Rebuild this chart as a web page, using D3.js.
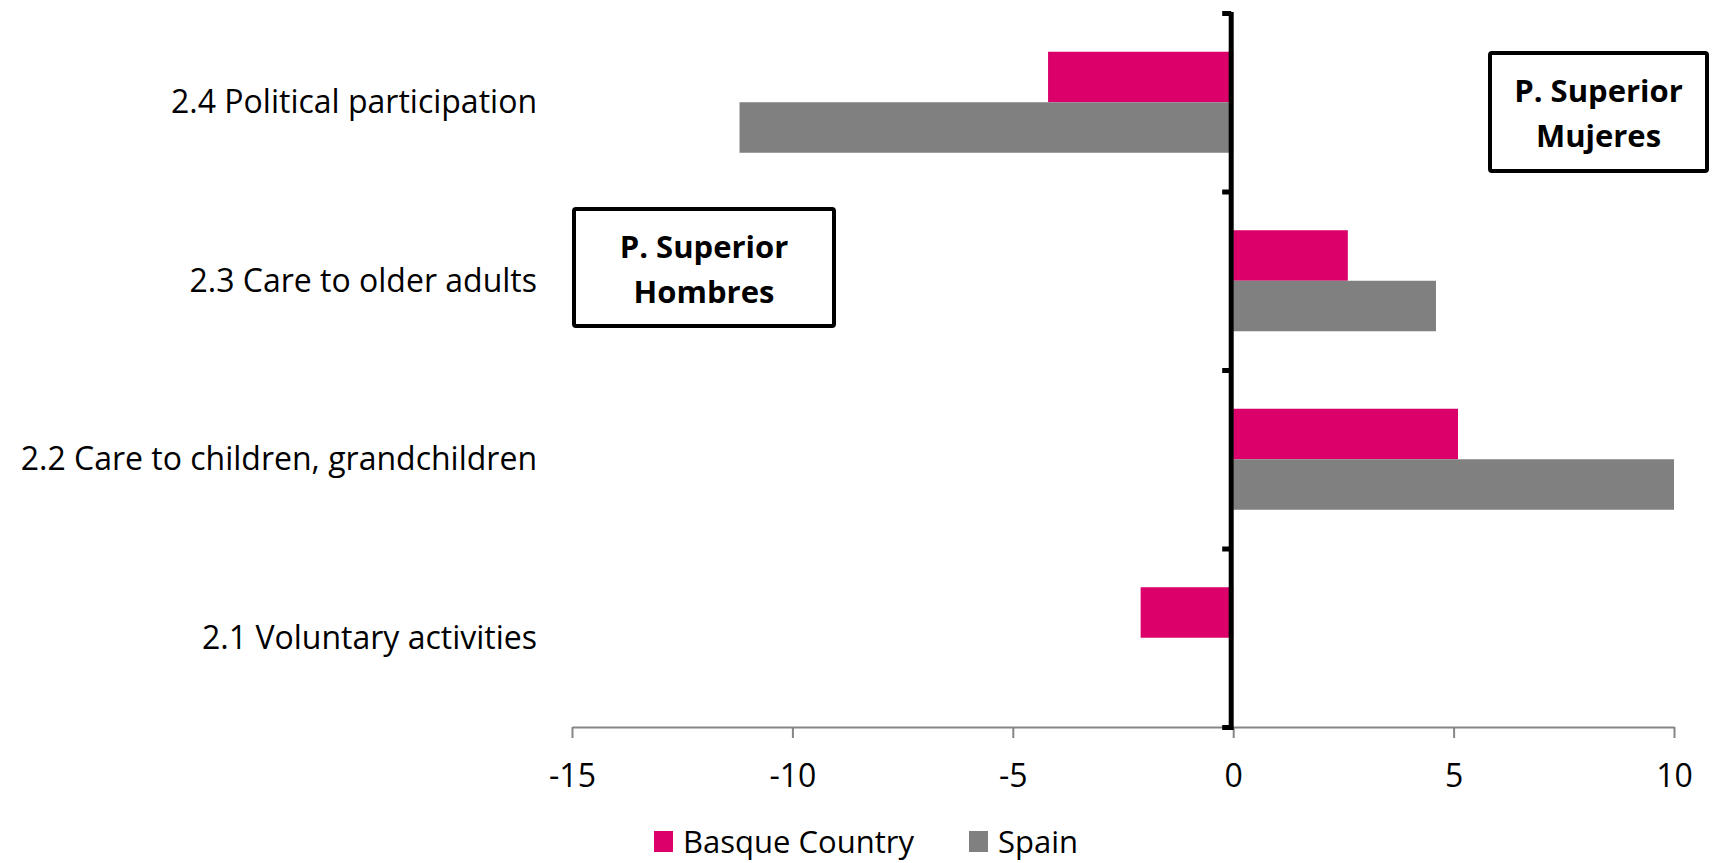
<!DOCTYPE html>
<html>
<head>
<meta charset="utf-8">
<script src="https://cdn.jsdelivr.net/npm/d3@7"></script>
<style>
  body { margin: 0; background: #fff; }
  svg { display: block; }
  text { font-family: "Open Sans", sans-serif; fill: #000; }
  .cat-label { font-size: 32px; }
  .legend-label { font-size: 31px; }
  .note { font-size: 31px; font-weight: bold; }
</style>
</head>
<body>
<div id="chart"></div>
<script>
// data
var categories = ["2.4 Political participation", "2.3 Care to older adults",
                  "2.2 Care to children, grandchildren", "2.1 Voluntary activities"];
var seriesNames = ["Basque Country", "Spain"];
var basque = [-4.2, 2.6, 5.1, -2.1];
var spain = [-11.2, 4.6, 10.0, 0];
var xTicks = [-15, -10, -5, 0, 5, 10];
var colors = ["#dc006b", "#808080"];

var width = 1727, height = 863;
var margin = { top: 13, right: 53, bottom: 136, left: 572 };

var svg = d3.select("#chart").append("svg")
    .attr("width", width)
    .attr("height", height);

var x = d3.scaleLinear()
    .domain([-15, 10])
    .range([margin.left, width - margin.right]);

var y = d3.scaleBand()
    .domain(categories)
    .range([margin.top, height - margin.bottom])
    .padding(0);

var y1 = d3.scaleBand()
    .domain(seriesNames)
    .range([0, y.bandwidth()])
    .paddingInner(0)
    .paddingOuter(0.767);

var rows = categories.map(function(c, i) {
  return { cat: c, values: [basque[i], spain[i]] };
});

// bars
var groups = svg.append("g").selectAll("g")
    .data(rows)
    .enter().append("g")
    .attr("transform", function(d) { return "translate(0," + y(d.cat) + ")"; });

groups.selectAll("rect")
    .data(function(d) { return d.values.map(function(v, i) { return { name: seriesNames[i], v: v, i: i }; }); })
    .enter().append("rect")
    .attr("x", function(d) { return x(Math.min(0, d.v)); })
    .attr("y", function(d) { return y1(d.name); })
    .attr("width", function(d) { return Math.abs(x(d.v) - x(0)); })
    .attr("height", y1.bandwidth())
    .attr("fill", function(d) { return colors[d.i]; });

// horizontal axis
var yAxisPos = height - margin.bottom;
var xAxis = svg.append("g")
    .attr("transform", "translate(0," + yAxisPos + ")")
    .call(d3.axisBottom(x).tickValues(xTicks).tickSize(11).tickSizeOuter(0).tickPadding(26)
      .tickFormat(function(d) { return String(d); }));
xAxis.select(".domain").attr("stroke", "#868686").attr("stroke-width", 2);
xAxis.selectAll(".tick line").attr("stroke", "#868686").attr("stroke-width", 2);
xAxis.selectAll(".tick text")
    .style("font-family", "'Open Sans', sans-serif")
    .style("font-size", "32px")
    .attr("fill", "#000");

// vertical axis at zero, thick black
var yAxis = svg.append("g")
    .attr("transform", "translate(" + x(0) + ",0)");
yAxis.append("line")
    .attr("x1", -2).attr("x2", -2)
    .attr("y1", margin.top - 1)
    .attr("y2", yAxisPos + 3)
    .attr("stroke", "#000")
    .attr("stroke-width", 5);
var boundaries = categories.map(function(c) { return y(c); }).concat([yAxisPos]);
yAxis.selectAll("rect.ytick")
    .data(boundaries)
    .enter().append("rect")
    .attr("class", "ytick")
    .attr("x", -11)
    .attr("y", function(d) { return d - 2; })
    .attr("width", 9)
    .attr("height", 5)
    .attr("fill", "#000");

// category labels
svg.append("g").selectAll("text")
    .data(categories)
    .enter().append("text")
    .attr("class", "cat-label")
    .attr("x", 537)
    .attr("y", function(d) { return y(d) + y.bandwidth() / 2; })
    .attr("dy", "0.35em")
    .attr("text-anchor", "end")
    .text(function(d) { return d; });

// annotation boxes
var notes = [
  { lines: ["P. Superior", "Hombres"], x: 574, y: 209, w: 260, h: 117 },
  { lines: ["P. Superior", "Mujeres"], x: 1490, y: 53, w: 217, h: 118 }
];
var noteG = svg.append("g").selectAll("g")
    .data(notes)
    .enter().append("g")
    .attr("transform", function(d) { return "translate(" + d.x + "," + d.y + ")"; });
noteG.append("rect")
    .attr("width", function(d) { return d.w; })
    .attr("height", function(d) { return d.h; })
    .attr("fill", "#fff")
    .attr("stroke", "#000")
    .attr("stroke-width", 4)
    .attr("rx", 2);
noteG.each(function(d) {
  var g = d3.select(this);
  d.lines.forEach(function(l, i) {
    g.append("text")
      .attr("class", "note")
      .attr("x", d.w / 2)
      .attr("y", 49 + i * 45)
      .attr("text-anchor", "middle")
      .text(l);
  });
});

// legend
var legendX = [654, 969];
var legend = svg.append("g").selectAll("g")
    .data(seriesNames)
    .enter().append("g")
    .attr("transform", function(d, i) { return "translate(" + legendX[i] + ",831)"; });
legend.append("rect")
    .attr("width", 19)
    .attr("height", 21)
    .attr("fill", function(d, i) { return colors[i]; });
legend.append("text")
    .attr("class", "legend-label")
    .attr("x", 29)
    .attr("y", 22)
    .text(function(d) { return d; });
</script>
</body>
</html>
